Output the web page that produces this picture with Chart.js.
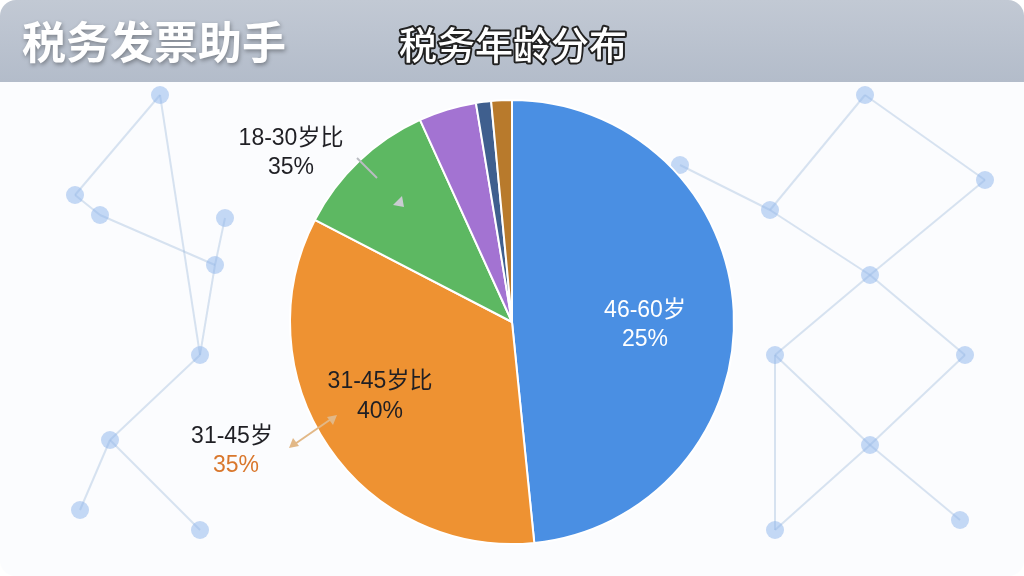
<!DOCTYPE html>
<html>
<head>
<meta charset="utf-8">
<script src="https://cdn.jsdelivr.net/npm/chart.js@4"></script>
<style>
  html, body { margin: 0; padding: 0; background: #ffffff; }
  #wrap { width: 1024px; height: 576px; border-radius: 16px; overflow: hidden; }
</style>
</head>
<body>
<div id="wrap"><canvas id="chart" width="1024" height="576"></canvas></div>
<script>
// slice data (clockwise from 12 o'clock)
const categories = ["46-60岁", "31-45岁", "18-30岁", "其他A", "其他B", "其他C"];
const shares = [48.4, 34.2, 10.6, 4.2, 1.1, 1.5];
const sliceColors = ["#4a8fe3", "#ee9232", "#5db862", "#a373d2", "#3f5f8e", "#b87a2c"];

// network dots in the background (decoration only)
const bgNodes = [[160, 95], [75, 195], [100, 215], [215, 265], [225, 218], [200, 355], [110, 440], [80, 510], [200, 530],
  [865, 95], [770, 210], [985, 180], [870, 275], [965, 355], [775, 355], [870, 445], [775, 530], [960, 520], [680, 165]];
const bgLinks = [[0, 1], [0, 5], [1, 2], [2, 3], [3, 5], [4, 3], [5, 6], [6, 7], [6, 8], [9, 10], [9, 11], [10, 12],
  [11, 12], [12, 13], [12, 14], [13, 15], [14, 15], [15, 16], [15, 17], [18, 10], [14, 16]];

const backdrop = {
  id: "backdrop",
  beforeDraw(chart) {
    const { ctx } = chart;
    ctx.save();
    ctx.fillStyle = "#fbfcfe";
    ctx.fillRect(0, 0, chart.width, chart.height);
    ctx.strokeStyle = "rgba(160,188,220,0.4)";
    ctx.lineWidth = 2;
    bgLinks.forEach(([a, b]) => {
      ctx.beginPath();
      ctx.moveTo(bgNodes[a][0], bgNodes[a][1]);
      ctx.lineTo(bgNodes[b][0], bgNodes[b][1]);
      ctx.stroke();
    });
    ctx.fillStyle = "rgba(140,180,235,0.5)";
    bgNodes.forEach(([x, y]) => {
      ctx.beginPath();
      ctx.arc(x, y, 9, 0, Math.PI * 2);
      ctx.fill();
    });
    // header band
    const g = ctx.createLinearGradient(0, 0, 0, 82);
    g.addColorStop(0, "#c2c9d4");
    g.addColorStop(1, "#b3bcca");
    ctx.fillStyle = g;
    ctx.fillRect(0, 0, chart.width, 82);
    ctx.restore();
  },
};

const labels = {
  id: "labels",
  afterDraw(chart) {
    const { ctx } = chart;
    ctx.save();
    // headings
    ctx.textBaseline = "middle";
    ctx.textAlign = "left";
    ctx.font = "bold 44px 'Noto Sans CJK SC'";
    ctx.shadowColor = "rgba(0,0,0,0.35)";
    ctx.shadowBlur = 4;
    ctx.shadowOffsetX = 1;
    ctx.shadowOffsetY = 2;
    ctx.fillStyle = "#ffffff";
    ctx.fillText("税务发票助手", 22, 42);
    ctx.shadowColor = "transparent";
    ctx.font = "500 38px 'Noto Sans CJK SC'";
    ctx.lineWidth = 4;
    ctx.strokeStyle = "#222222";
    ctx.lineJoin = "round";
    ctx.strokeText("税务年龄分布", 399, 45);
    ctx.fillText("税务年龄分布", 399, 45);

    // slice labels
    ctx.textAlign = "center";
    ctx.font = "23px 'Liberation Sans', 'Noto Sans CJK SC'";
    const put = (t, x, y, c) => { ctx.fillStyle = c; ctx.fillText(t, x, y); };
    put("18-30岁比", 291, 139, "#1f1f24");
    put("35%", 291, 168, "#1f1f24");
    put(categories[0], 645, 311, "#ffffff");
    put("25%", 645, 340, "#ffffff");
    put("31-45岁比", 380, 382, "#1f1f24");
    put("40%", 380, 412, "#1f1f24");
    put(categories[1], 232, 437, "#1f1f24");
    put("35%", 236, 466, "#d9772c");

    // small pointers
    ctx.strokeStyle = "#b9bcc2";
    ctx.lineWidth = 2;
    ctx.beginPath();
    ctx.moveTo(357, 158);
    ctx.lineTo(377, 178);
    ctx.stroke();
    ctx.fillStyle = "#c9ccd2";
    ctx.beginPath();
    ctx.moveTo(404, 207);
    ctx.lineTo(393, 205);
    ctx.lineTo(402, 196);
    ctx.fill();

    ctx.strokeStyle = "#e2b887";
    ctx.fillStyle = "#e2b887";
    ctx.beginPath();
    ctx.moveTo(292, 446);
    ctx.lineTo(334, 417);
    ctx.stroke();
    [[289, 448, 1], [337, 415, -1]].forEach(([x, y, s]) => {
      ctx.beginPath();
      ctx.moveTo(x, y);
      ctx.lineTo(x + s * 4, y - s * 10);
      ctx.lineTo(x + s * 10, y - s * 2);
      ctx.fill();
    });
    ctx.restore();
  },
};

new Chart(document.getElementById("chart"), {
  type: "pie",
  data: {
    labels: categories,
    datasets: [{
      data: shares,
      backgroundColor: sliceColors,
      borderColor: "#ffffff",
      borderWidth: 2,
    }],
  },
  options: {
    responsive: false,
    animation: false,
    layout: { padding: { top: 99, bottom: 31, left: 0, right: 0 } },
    plugins: {
      legend: { display: false },
      tooltip: { enabled: false },
      title: { display: false },
    },
  },
  plugins: [backdrop, labels],
});
</script>
</body>
</html>
